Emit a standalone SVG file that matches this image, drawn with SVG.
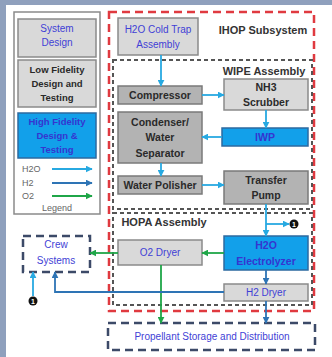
<svg xmlns="http://www.w3.org/2000/svg" width="332" height="357" viewBox="0 0 332 357">
<defs>
<style>
text{font-family:"Liberation Sans",Arial,sans-serif;text-anchor:middle}
.lt{fill:#d9d9d9;stroke:#8a8a8a;stroke-width:1.5}
.dk{fill:#b3b3b3;stroke:#7a7a7a;stroke-width:1.5}
.bl{fill:#12a0ea;stroke:#2d6aa0;stroke-width:1.5}
.tb{font-size:10px;fill:#3f3fd6}
.tk{font-size:10.5px;font-weight:bold;fill:#2a2a2a}
.tt{font-size:11px;font-weight:bold;fill:#333}
.red{fill:none;stroke:#e03a40;stroke-width:2.5;stroke-dasharray:8 5}
.gry{fill:none;stroke:#555;stroke-width:2;stroke-dasharray:4 3}
.nav{fill:none;stroke:#3c4a68;stroke-width:2.5;stroke-dasharray:8 5}
.c1{fill:none;stroke:#27a9e1;stroke-width:1.8;marker-end:url(#a1)}
.c2{fill:none;stroke:#2e74b5;stroke-width:1.8;marker-end:url(#a2)}
.c3{fill:none;stroke:#1fa648;stroke-width:1.8;marker-end:url(#a3)}
.lg{font-size:9px;fill:#666;text-anchor:start}
</style>
<marker id="a1" viewBox="0 0 10 10" refX="9" refY="5" markerWidth="7" markerHeight="7" markerUnits="userSpaceOnUse" orient="auto"><path d="M0,0L10,5L0,10z" fill="#27a9e1"/></marker>
<marker id="a2" viewBox="0 0 10 10" refX="9" refY="5" markerWidth="7" markerHeight="7" markerUnits="userSpaceOnUse" orient="auto"><path d="M0,0L10,5L0,10z" fill="#2e74b5"/></marker>
<marker id="a3" viewBox="0 0 10 10" refX="9" refY="5" markerWidth="7" markerHeight="7" markerUnits="userSpaceOnUse" orient="auto"><path d="M0,0L10,5L0,10z" fill="#1fa648"/></marker>
</defs>
<rect x="0" y="0" width="332" height="357" fill="#8fa0bd"/>
<rect x="6" y="5" width="326" height="352" fill="#ffffff"/>

<g id="legend">
<rect x="14" y="12" width="86" height="202" fill="#fff" stroke="#8a8a8a" stroke-width="1.5"/>
<rect class="lt" x="18" y="19" width="78" height="38"/>
<text class="tb" font-size="9.5" x="57" y="32">System</text>
<text class="tb" font-size="9.5" x="57" y="46">Design</text>
<rect class="lt" x="18" y="60" width="78" height="47"/>
<text class="tk" style="font-size:9.5px" x="57" y="73">Low Fidelity</text>
<text class="tk" style="font-size:9.5px" x="57" y="87">Design and</text>
<text class="tk" style="font-size:9.5px" x="57" y="101">Testing</text>
<rect class="bl" x="18" y="113" width="78" height="45"/>
<text class="tk" style="font-size:9.5px;fill:#3535d0" x="57" y="125">High Fidelity</text>
<text class="tk" style="font-size:9.5px;fill:#3535d0" x="57" y="139">Design &amp;</text>
<text class="tk" style="font-size:9.5px;fill:#3535d0" x="57" y="153">Testing</text>
<text class="lg" x="22" y="172">H2O</text>
<text class="lg" x="22" y="186">H2</text>
<text class="lg" x="22" y="199">O2</text>
<line class="c1" x1="52" y1="169" x2="92" y2="169"/>
<line class="c2" x1="52" y1="183" x2="92" y2="183"/>
<line class="c3" x1="52" y1="196" x2="92" y2="196"/>
<text style="font-size:9px;fill:#666" x="57" y="211">Legend</text>
</g>

<g id="ihop">
<rect class="red" x="109" y="12" width="205" height="299"/>
<text class="tt" x="263" y="34">IHOP Subsystem</text>
</g>
<g id="wipe">
<rect class="gry" x="113" y="60" width="199" height="149"/>
<text class="tt" x="264" y="75">WIPE Assembly</text>
</g>
<g id="hopa">
<rect class="gry" x="113" y="213" width="199" height="92"/>
<text class="tt" x="164" y="226">HOPA Assembly</text>
</g>

<g id="coldtrap">
<rect class="lt" x="118" y="18" width="80" height="37"/>
<text class="tb" x="158" y="33">H2O Cold Trap</text>
<text class="tb" x="158" y="48">Assembly</text>
</g>
<g id="compressor">
<rect class="dk" x="118" y="86" width="84" height="18"/>
<text class="tk" x="160" y="99">Compressor</text>
</g>
<g id="condenser">
<rect class="dk" x="118" y="112" width="84" height="51"/>
<text class="tk" x="160" y="126">Condenser/</text>
<text class="tk" x="160" y="141">Water</text>
<text class="tk" x="160" y="157">Separator</text>
</g>
<g id="polisher">
<rect class="dk" x="118" y="176" width="84" height="18"/>
<text class="tk" x="160" y="189">Water Polisher</text>
</g>
<g id="nh3">
<rect class="lt" x="224" y="79" width="84" height="31"/>
<text class="tk" x="266" y="91">NH3</text>
<text class="tk" x="266" y="106">Scrubber</text>
</g>
<g id="iwp">
<rect class="bl" x="222" y="128" width="86" height="18"/>
<text class="tk" style="fill:#3535d0" x="265" y="141">IWP</text>
</g>
<g id="pump">
<rect class="dk" x="224" y="171" width="84" height="33"/>
<text class="tk" x="266" y="184">Transfer</text>
<text class="tk" x="266" y="199">Pump</text>
</g>
<g id="o2dryer">
<rect class="lt" x="118" y="240" width="84" height="25"/>
<text class="tb" x="160" y="256">O2 Dryer</text>
</g>
<g id="electrolyzer">
<rect class="bl" x="224" y="236" width="84" height="34"/>
<text class="tk" style="fill:#3535d0" x="266" y="249">H2O</text>
<text class="tk" style="fill:#3535d0" x="266" y="265">Electrolyzer</text>
</g>
<g id="h2dryer">
<rect class="lt" x="224" y="284" width="84" height="17"/>
<text class="tb" x="266" y="296">H2 Dryer</text>
</g>
<g id="crew">
<rect class="nav" x="23" y="236" width="67" height="36"/>
<text class="tb" font-size="10" x="56" y="248">Crew</text>
<text class="tb" font-size="10" x="56" y="264">Systems</text>
</g>
<g id="propellant">
<rect class="nav" x="108" y="323" width="207" height="27"/>
<text class="tb" font-size="10.5" x="212" y="340">Propellant Storage and Distribution</text>
</g>
<g id="marker1a">
<circle cx="294" cy="224" r="4.5" fill="#111"/>
<text x="294" y="227" style="font-size:7px;font-weight:bold;fill:#fff">1</text>
</g>
<g id="marker1b">
<circle cx="33" cy="301" r="4.5" fill="#111"/>
<text x="33" y="304" style="font-size:7px;font-weight:bold;fill:#fff">1</text>
</g>

<g id="connectors">
<line class="c1" x1="161" y1="55" x2="161" y2="86"/>
<line class="c1" x1="202" y1="95" x2="224" y2="95"/>
<line class="c1" x1="266" y1="110" x2="266" y2="128"/>
<line class="c1" x1="222" y1="137" x2="202" y2="137"/>
<line class="c1" x1="161" y1="163" x2="161" y2="176"/>
<line class="c1" x1="202" y1="185" x2="224" y2="185"/>
<line class="c1" x1="266" y1="204" x2="266" y2="236"/>
<polyline class="c1" points="266,224 289,224"/>
<line class="c3" x1="224" y1="253" x2="202" y2="253"/>
<line class="c3" x1="118" y1="253" x2="90" y2="253"/>
<line class="c3" x1="161" y1="265" x2="161" y2="323"/>
<line class="c2" x1="266" y1="270" x2="266" y2="284"/>
<line class="c2" x1="266" y1="301" x2="266" y2="323"/>
<polyline class="c2" points="224,292 55,292 55,272"/>
<line class="c1" x1="33" y1="296" x2="33" y2="272"/>
</g>
</svg>
